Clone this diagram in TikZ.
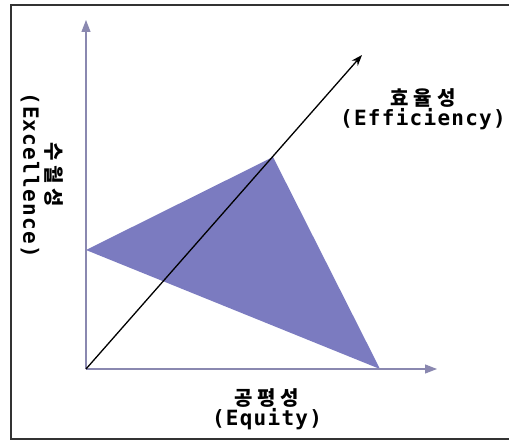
\documentclass[tikz,border=0pt]{standalone}
\usepackage{fontspec}
\usepackage{tikz}
\usetikzlibrary{arrows.meta,positioning}
\newfontfamily\hangul[LetterSpace=24]{Noto Sans CJK KR}
\newfontfamily\latinmono[LetterSpace=6]{DejaVu Sans Mono}
\definecolor{axisgrey}{HTML}{8A88B0}
\definecolor{wedgeblue}{HTML}{7B7BC0}
\definecolor{framegrey}{HTML}{333333}
\tikzset{
  axis/.style={-{Triangle[length=12pt,width=9pt]}, line width=1.2pt,
               draw=axisgrey},
  effarrow/.style={-{Stealth[length=11pt,width=8pt]}, line width=1.3pt,
                   draw=black},
  wedge/.style={fill=wedgeblue, draw=none},
  axlbl/.style={align=center, inner sep=0pt, text=black,
                font=\fontsize{20}{20}\selectfont\bfseries},
}
\newcommand{\kor}[1]{{\hangul #1}}
\newcommand{\eng}[1]{{\latinmono\fontsize{21}{20}\selectfont #1}}

\begin{document}
\begin{tikzpicture}[x=1pt,y=-1pt]
\useasboundingbox (0,0) rectangle (509,441);
\fill[white] (0,0) rectangle (509,441);
\draw[framegrey, line width=1.6pt] (509,5) -- (11,5) -- (11,439) -- (509,439);

\coordinate (O)    at (86,369);
\coordinate (ytip) at (86,20);
\coordinate (xtip) at (437,369);
\coordinate (etip) at (362,55);
\coordinate (wl)   at (86,250);
\coordinate (wt)   at (273,157);
\coordinate (wr)   at (380,369);

% triangle
\fill[wedge] (wl) -- (wt) -- (wr) -- cycle;

% axes
\draw[axis] (O) -- (ytip);
\draw[axis] (O) -- (xtip);
\draw[effarrow] (O) -- (etip);

% labels
\node[axlbl] at (423,109) (eff) {\kor{효율성}\\\eng{(Efficiency)}};
\node[axlbl] at (267,409) (equ) {\kor{공평성}\\\eng{(Equity)}};
\node[axlbl, rotate=-90] at (42,175) (exc)
  {\kor{수월성}\\[3pt]\eng{(Excellence)}};
\end{tikzpicture}
\end{document}
